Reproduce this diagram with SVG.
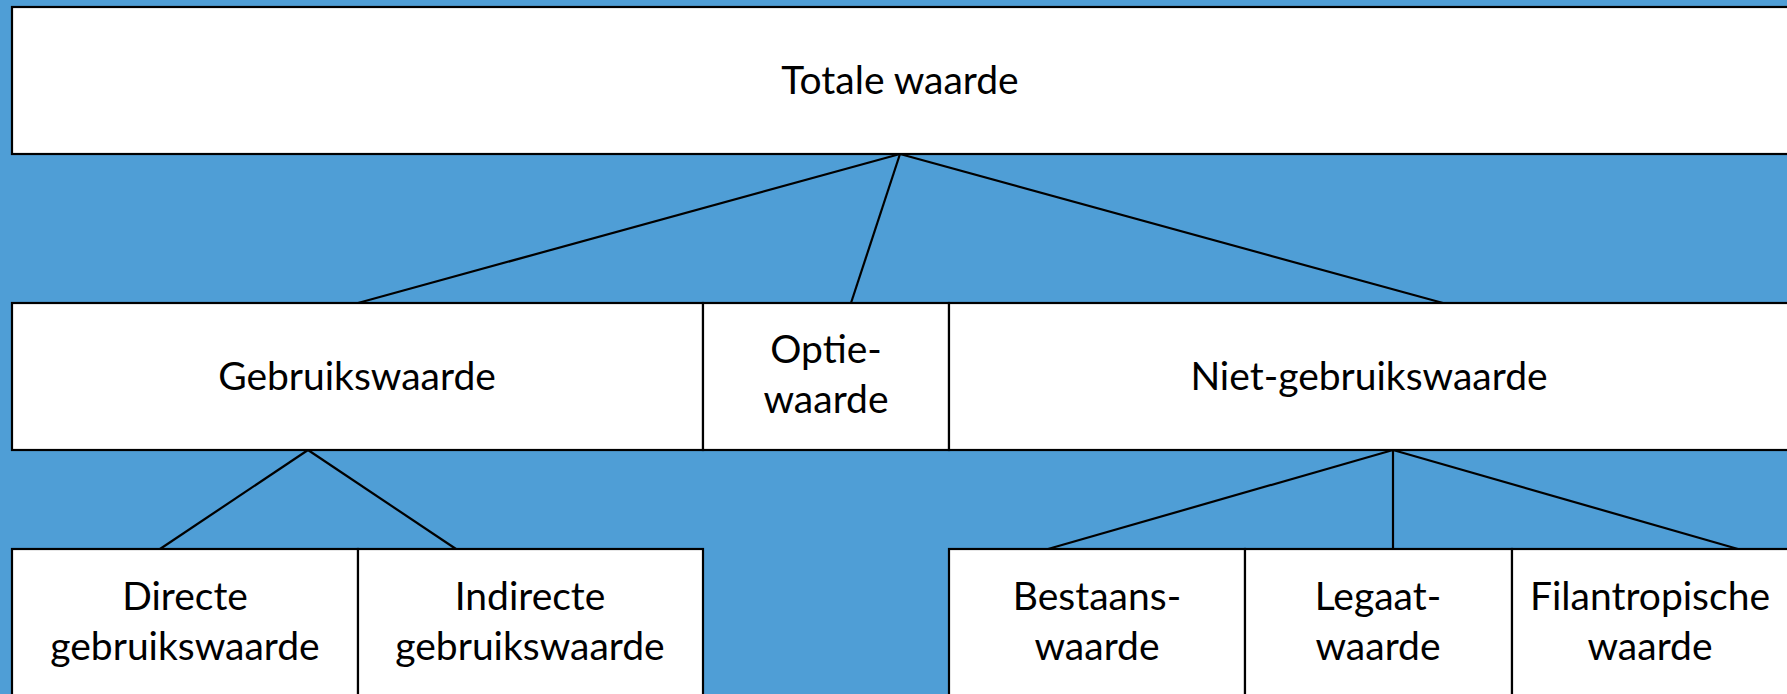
<svg xmlns="http://www.w3.org/2000/svg" width="1787" height="694" viewBox="0 0 1787 694">
<style>
.box{fill:#ffffff;stroke:#000000;stroke-width:2.2}
.lbl{font-family:Lato,"Liberation Sans",sans-serif;font-size:39px;fill:#000000;text-anchor:middle}
.con{stroke:#000000;stroke-width:2.2;fill:none}
</style>
<rect x="0" y="0" width="1787" height="694" fill="#4f9ed6"/>
<g id="totale"><rect class="box" x="12" y="7" width="1790" height="147"/><text class="lbl" x="900" y="94">Totale waarde</text></g>
<g id="gebruik"><rect class="box" x="12" y="303" width="691" height="147"/><text class="lbl" x="357" y="390">Gebruikswaarde</text></g>
<g id="optie"><rect class="box" x="703" y="303" width="246" height="147"/><text class="lbl" x="826" y="363">Optie-</text><text class="lbl" x="826" y="413">waarde</text></g>
<g id="nietgebruik"><rect class="box" x="949" y="303" width="853" height="147"/><text class="lbl" x="1369" y="390">Niet-gebruikswaarde</text></g>
<g id="direct"><rect class="box" x="12" y="549" width="346" height="160"/><text class="lbl" x="185" y="610">Directe</text><text class="lbl" x="185" y="660">gebruikswaarde</text></g>
<g id="indirect"><rect class="box" x="358" y="549" width="345" height="160"/><text class="lbl" x="530" y="610">Indirecte</text><text class="lbl" x="530" y="660">gebruikswaarde</text></g>
<g id="bestaan"><rect class="box" x="949" y="549" width="296" height="160"/><text class="lbl" x="1097" y="610">Bestaans-</text><text class="lbl" x="1097" y="660">waarde</text></g>
<g id="legaat"><rect class="box" x="1245" y="549" width="267" height="160"/><text class="lbl" x="1378" y="610">Legaat-</text><text class="lbl" x="1378" y="660">waarde</text></g>
<g id="filantropisch"><rect class="box" x="1512" y="549" width="290" height="160"/><text class="lbl" x="1650" y="610">Filantropische</text><text class="lbl" x="1650" y="660">waarde</text></g>
<g id="connectors">
<line class="con" x1="900" y1="154" x2="358" y2="303"/>
<line class="con" x1="900" y1="154" x2="851" y2="303"/>
<line class="con" x1="900" y1="154" x2="1443" y2="303"/>
<line class="con" x1="308" y1="450" x2="160" y2="549"/>
<line class="con" x1="308" y1="450" x2="456" y2="549"/>
<line class="con" x1="1393" y1="450" x2="1048" y2="549"/>
<line class="con" x1="1393" y1="450" x2="1393" y2="549"/>
<line class="con" x1="1393" y1="450" x2="1738" y2="549"/>
</g>
</svg>
